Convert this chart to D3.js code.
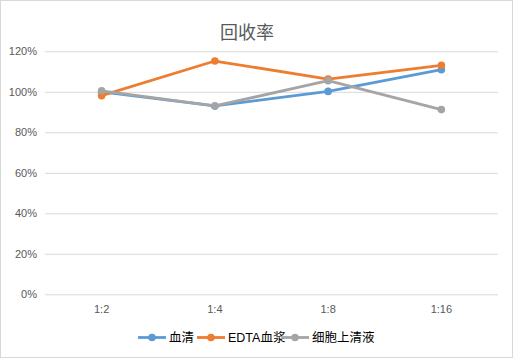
<!DOCTYPE html>
<html><head><meta charset="utf-8">
<script src="https://cdn.jsdelivr.net/npm/d3@7/dist/d3.min.js"></script>
<style>body{margin:0;background:#fff}svg{display:block}</style>
</head><body>
<script>
const categories = ["1:2", "1:4", "1:8", "1:16"];
const seriesNames = ["血清", "EDTA血浆", "细胞上清液"];
const serum = [1.00, 0.93, 1.002, 1.109];
const edta = [0.981, 1.152, 1.063, 1.131];
const cellSup = [1.005, 0.93, 1.055, 0.912];
const yTicks = [0, 0.2, 0.4, 0.6, 0.8, 1.0, 1.2];
const colors = ["#5B9BD5", "#ED7D31", "#A5A5A5"];
const seriesValues = [serum, edta, cellSup];

const W = 513, H = 358;
const svg = d3.select("body").append("svg").attr("width", W).attr("height", H);
svg.append("rect").attr("x", 0.5).attr("y", 0.5).attr("width", W - 1).attr("height", H - 1)
  .attr("fill", "#fff").attr("stroke", "#D9D9D9");

const x = d3.scaleBand().domain(categories).range([45, 498]);
const y = d3.scaleLinear().domain([0, 1.2]).range([294.3, 51.3]);
const font = "'Liberation Sans', 'Noto Sans CJK SC', sans-serif";

svg.append("text").attr("x", 247).attr("y", 38.5).attr("text-anchor", "middle")
  .attr("font-family", "'Noto Sans CJK SC', sans-serif").attr("font-size", 18)
  .attr("fill", "#595959").text("回收率");

const yAxis = d3.axisLeft(y).tickValues(yTicks).tickFormat(d3.format(".0%")).tickSize(-(498 - 45)).tickPadding(8);
const gy = svg.append("g").attr("transform", "translate(45,0)").call(yAxis);
gy.select(".domain").remove();
gy.selectAll(".tick line").attr("stroke", "#D9D9D9").attr("stroke-width", 1);
gy.selectAll(".tick text").attr("font-family", font).attr("font-size", 11).attr("fill", "#595959");

const xAxis = d3.axisBottom(x).tickSize(0).tickPadding(11);
const gx = svg.append("g").attr("transform", "translate(0,294.3)").call(xAxis);
gx.select(".domain").remove();
gx.selectAll(".tick text").attr("font-family", font).attr("font-size", 11).attr("fill", "#595959");

const cx = c => x(c) + x.bandwidth() / 2;
const line = d3.line().x((d, i) => cx(categories[i])).y(d => y(d));

seriesValues.forEach((vals, si) => {
  const g = svg.append("g");
  g.append("path").datum(vals).attr("d", line).attr("fill", "none")
    .attr("stroke", colors[si]).attr("stroke-width", 2.8).attr("stroke-linejoin", "round").attr("stroke-linecap", "round");
  g.selectAll("circle").data(vals).join("circle")
    .attr("cx", (d, i) => cx(categories[i])).attr("cy", d => y(d)).attr("r", 3.8).attr("fill", colors[si]);
});

// legend
const legendX = [138, 197, 281];
const lg = svg.append("g");
seriesNames.forEach((n, i) => {
  const lx = legendX[i], ly = 337.5;
  lg.append("line").attr("x1", lx).attr("x2", lx + 28).attr("y1", ly).attr("y2", ly)
    .attr("stroke", colors[i]).attr("stroke-width", 2.8);
  lg.append("circle").attr("cx", lx + 14).attr("cy", ly).attr("r", 3.8).attr("fill", colors[i]);
  lg.append("text").attr("x", lx + 31).attr("y", ly + 4.5).attr("font-family", font)
    .attr("font-size", 12.5).attr("fill", "#000").text(n);
});
</script>
</body></html>
